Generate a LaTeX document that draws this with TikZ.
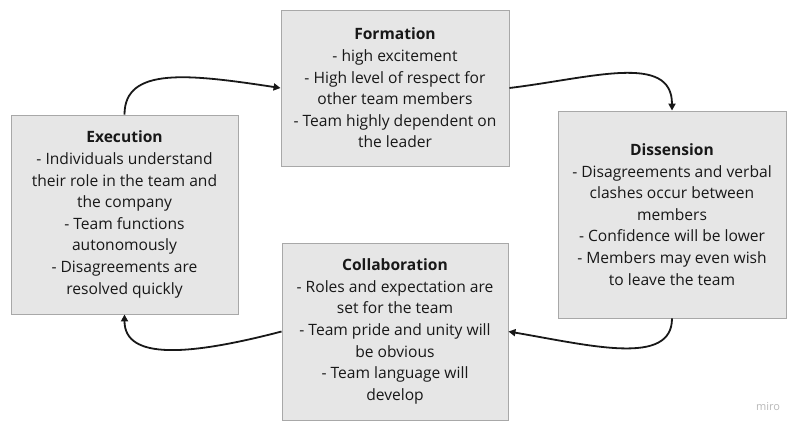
\documentclass[tikz,border=0pt]{standalone}
\usepackage{fontspec}
\setmainfont{Open Sans}
\usepackage{tikz}
\usetikzlibrary{arrows.meta, positioning, calc}
\usepackage{xcolor}
\definecolor{boxfill}{HTML}{E6E6E6}
\definecolor{boxline}{HTML}{A8A8A8}
\definecolor{ink}{HTML}{181818}
\definecolor{faint}{HTML}{B8B8B8}

\begin{document}
\begin{tikzpicture}[x=1pt, y=-1pt,
    stage/.style={draw=boxline, line width=0.9pt, fill=boxfill, text=ink, align=center,
      font=\fontsize{15.6}{21.6}\selectfont, inner sep=0pt},
    flow/.style={-{Triangle[width=7pt, length=7pt]}, line width=1.8pt, color=ink}]
    \useasboundingbox (0,0) rectangle (800,429);
    \node[stage, minimum width=228pt, minimum height=156pt] (form) at (395,88)
      {\textbf{Formation}\\- high excitement\\- High level of respect for\\other team members\\- Team highly dependent on\\the leader};
    \node[stage, minimum width=228pt, minimum height=207pt] (diss) at (672,214.5)
      {\textbf{Dissension}\\- Disagreements and verbal\\clashes occur between\\members\\- Confidence will be lower\\- Members may even wish\\to leave the team};
    \node[stage, minimum width=226pt, minimum height=177pt] (coll) at (395,331.5)
      {\textbf{Collaboration}\\- Roles and expectation are\\set for the team\\- Team pride and unity will\\be obvious\\- Team language will\\develop};
    \node[stage, minimum width=227pt, minimum height=199pt] (exec) at (124.5,214.5)
      {\textbf{Execution}\\- Individuals understand\\their role in the team and\\the company\\- Team functions\\autonomously\\- Disagreements are\\resolved quickly};
    \draw[flow] (exec.north) .. controls +(0,-48) and +(-92,-14) .. (form.west);
    \draw[flow] (form.east) .. controls +(82,-10) and +(0,-58) .. (diss.north);
    \draw[flow] (diss.south) .. controls +(0,48) and +(82,14) .. (coll.east);
    \draw[flow] (coll.west) .. controls +(-92,24) and +(0,46) .. (exec.south);
    \node[color=faint, font=\fontsize{11}{13}\selectfont, anchor=base] (brand) at (768,410) {miro};
  \end{tikzpicture}
\end{document}
